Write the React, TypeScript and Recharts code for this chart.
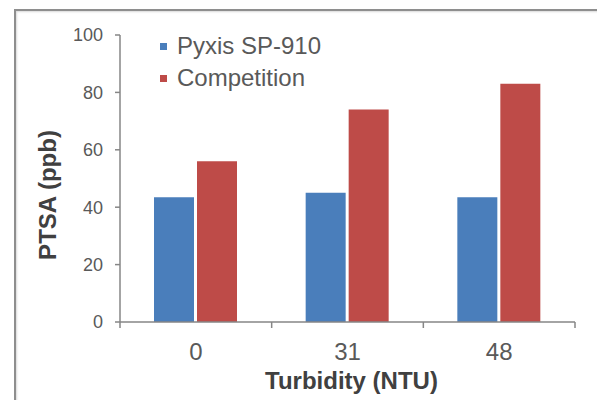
import React from 'react';
import { BarChart, Bar, XAxis, YAxis, Label } from 'recharts';

// Turbidity levels and measured PTSA per instrument
const turbidity = ['0', '31', '48'];
const pyxisValues = [43.5, 45, 43.5];
const competitionValues = [56, 74, 83];
const yTicks = [0, 20, 40, 60, 80, 100];

const seriesInfo = [
  { key: 'pyxis', name: 'Pyxis SP-910', color: '#4A7EBB' },
  { key: 'competition', name: 'Competition', color: '#BE4B48' },
];

const data = turbidity.map((t, i) => ({
  turbidity: t,
  pyxis: pyxisValues[i],
  competition: competitionValues[i],
}));

const FONT = '"Liberation Sans", Arial, sans-serif';
const AXIS = '#868686';
const W = 597;
const H = 400;
const MARGIN = { top: 35, right: 22, left: 0, bottom: 0 };
const Y_WIDTH = 120;
const PLOT_W = W - MARGIN.left - MARGIN.right - Y_WIDTH;
const BAND = PLOT_W / turbidity.length;

// category tick: label in the middle, tick marks on the band edges (Excel style)
const XTick = (props: any) => {
  const { x, y, payload, index } = props;
  const axisY = y - 21;
  const left = x - BAND / 2;
  return (
    <g>
      <line x1={left} x2={left} y1={axisY} y2={axisY + 6} stroke={AXIS} strokeWidth={1.5} />
      {index === turbidity.length - 1 && (
        <line x1={x + BAND / 2} x2={x + BAND / 2} y1={axisY} y2={axisY + 6} stroke={AXIS} strokeWidth={1.5} />
      )}
      <text x={x} y={y} dy="0.71em" textAnchor="middle" fill="#595959" fontSize={24} fontFamily={FONT}>
        {payload.value}
      </text>
    </g>
  );
};

const App: React.FC = () => {
  return (
    <div style={{ position: 'absolute', left: 0, top: 0, width: W, height: H, background: '#fff', overflow: 'hidden' }}>
      <div
        style={{
          position: 'absolute',
          left: 14,
          top: 9,
          width: 600,
          height: 400,
          borderTop: '2px solid #8e8e8e',
          borderLeft: '2px solid #8e8e8e',
          boxShadow: 'inset 1px 1px 2px rgba(0,0,0,0.15)',
        }}
      />
      <div style={{ position: 'absolute', left: 0, top: 0 }}>
        <BarChart width={W} height={H} data={data} margin={MARGIN} barSize={40} barGap={3}>
          <XAxis
            dataKey="turbidity"
            height={78}
            axisLine={{ stroke: AXIS, strokeWidth: 1.5 }}
            tickLine={false}
            tickSize={6}
            tickMargin={15}
            tick={<XTick />}
          >
            <Label
              content={({ viewBox }: any) => (
                <text
                  x={viewBox.x + viewBox.width / 2 + 4}
                  y={389}
                  textAnchor="middle"
                  fill="#404040"
                  fontSize={24}
                  fontWeight="bold"
                  fontFamily={FONT}
                >
                  Turbidity (NTU)
                </text>
              )}
            />
          </XAxis>
          <YAxis
            width={Y_WIDTH}
            domain={[0, 100]}
            ticks={yTicks}
            axisLine={{ stroke: AXIS, strokeWidth: 1.5 }}
            tickLine={{ stroke: AXIS, strokeWidth: 1.5 }}
            tickSize={5}
            tickMargin={12}
            tick={{ fill: '#595959', fontSize: 18, fontFamily: FONT }}
          >
            <Label
              content={() => (
                <text
                  x={0}
                  y={0}
                  transform="translate(56, 195) rotate(-90)"
                  textAnchor="middle"
                  fill="#404040"
                  fontSize={24}
                  fontWeight="bold"
                  fontFamily={FONT}
                >
                  PTSA (ppb)
                </text>
              )}
            />
          </YAxis>
          {seriesInfo.map(s => (
            <Bar key={s.key} dataKey={s.key} name={s.name} fill={s.color} isAnimationActive={false} />
          ))}
        </BarChart>
      </div>
      <div
        style={{
          position: 'absolute',
          left: 160,
          top: 30,
          fontFamily: FONT,
          fontSize: 24,
          color: '#595959',
          lineHeight: '32px',
        }}
      >
        {seriesInfo.map(s => (
          <div key={s.key} style={{ display: 'flex', alignItems: 'center' }}>
            <span style={{ width: 7, height: 7, background: s.color, display: 'inline-block', marginRight: 10 }} />
            <span>{s.name}</span>
          </div>
        ))}
      </div>
    </div>
  );
};

export default App;
